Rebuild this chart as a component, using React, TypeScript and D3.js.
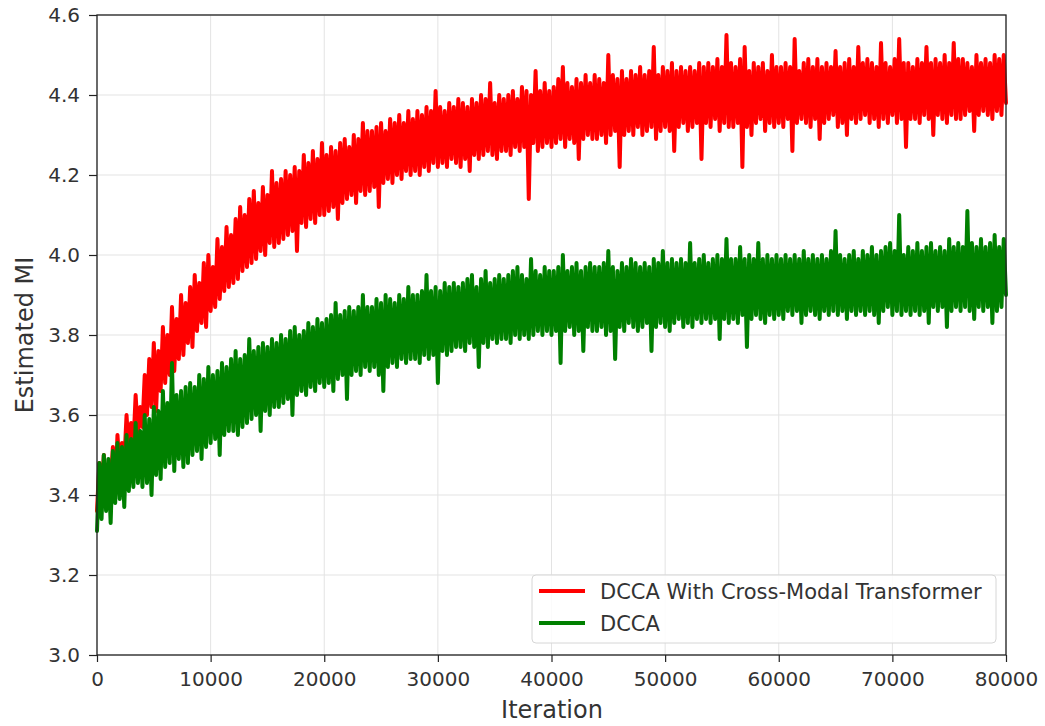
import React, { useEffect, useRef } from "react";
import * as d3 from "d3";

// iteration step between recorded samples
const STEP = 200;

// DCCA With Cross-Modal Transformer (one value every 200 iterations)
const transformerMI = [
  3.36, 3.48, 3.39, 3.50, 3.41, 3.47, 3.43, 3.52, 3.40, 3.55, 3.46, 3.53, 3.48, 3.60, 3.50, 3.58, 3.52, 3.65, 3.55, 3.62,
  3.57, 3.70, 3.60, 3.74, 3.62, 3.78, 3.61, 3.76, 3.66, 3.82, 3.68, 3.80, 3.70, 3.87, 3.71, 3.84, 3.74, 3.90, 3.75, 3.88,
  3.78, 3.92, 3.77, 3.95, 3.81, 3.93, 3.83, 3.98, 3.82, 4.00, 3.86, 3.97, 3.87, 4.04, 3.89, 4.02, 3.91, 4.07, 3.92, 4.05,
  3.93, 4.09, 3.94, 4.12, 3.96, 4.10, 3.97, 4.14, 3.98, 4.16, 3.99, 4.13, 4.01, 4.17, 4.00, 4.15, 4.03, 4.21, 4.02, 4.18,
  4.03, 4.19, 4.04, 4.21, 4.05, 4.20, 4.06, 4.22, 4.01, 4.21, 4.08, 4.25, 4.07, 4.23, 4.09, 4.26, 4.08, 4.24, 4.10, 4.28,
  4.10, 4.25, 4.11, 4.27, 4.12, 4.26, 4.09, 4.28, 4.13, 4.29, 4.14, 4.27, 4.15, 4.30, 4.13, 4.29, 4.16, 4.33, 4.15, 4.31,
  4.16, 4.31, 4.17, 4.32, 4.12, 4.33, 4.18, 4.31, 4.19, 4.34, 4.18, 4.33, 4.20, 4.35, 4.19, 4.33, 4.21, 4.36, 4.20, 4.34,
  4.21, 4.36, 4.20, 4.35, 4.22, 4.37, 4.21, 4.36, 4.23, 4.41, 4.22, 4.37, 4.23, 4.36, 4.22, 4.38, 4.24, 4.37, 4.23, 4.39,
  4.22, 4.38, 4.24, 4.37, 4.21, 4.39, 4.25, 4.38, 4.24, 4.40, 4.25, 4.39, 4.26, 4.43, 4.25, 4.38, 4.24, 4.40, 4.26, 4.39,
  4.26, 4.40, 4.25, 4.41, 4.27, 4.39, 4.26, 4.42, 4.27, 4.41, 4.14, 4.40, 4.28, 4.46, 4.26, 4.41, 4.27, 4.43, 4.28, 4.41,
  4.27, 4.42, 4.28, 4.44, 4.29, 4.47, 4.27, 4.43, 4.29, 4.42, 4.28, 4.44, 4.24, 4.43, 4.29, 4.45, 4.30, 4.43, 4.29, 4.45,
  4.29, 4.44, 4.30, 4.43, 4.28, 4.50, 4.30, 4.45, 4.31, 4.44, 4.22, 4.46, 4.30, 4.44, 4.31, 4.46, 4.30, 4.45, 4.32, 4.47,
  4.30, 4.45, 4.31, 4.46, 4.32, 4.52, 4.29, 4.45, 4.31, 4.47, 4.32, 4.46, 4.31, 4.48, 4.26, 4.46, 4.32, 4.47, 4.33, 4.46,
  4.31, 4.47, 4.32, 4.46, 4.33, 4.48, 4.24, 4.47, 4.33, 4.48, 4.32, 4.47, 4.34, 4.49, 4.31, 4.47, 4.33, 4.55, 4.32, 4.48,
  4.32, 4.47, 4.33, 4.49, 4.22, 4.52, 4.32, 4.46, 4.30, 4.48, 4.33, 4.47, 4.34, 4.48, 4.31, 4.46, 4.33, 4.50, 4.32, 4.47,
  4.33, 4.47, 4.32, 4.48, 4.34, 4.47, 4.26, 4.54, 4.33, 4.46, 4.34, 4.48, 4.33, 4.49, 4.32, 4.47, 4.34, 4.49, 4.29, 4.47,
  4.33, 4.48, 4.34, 4.47, 4.35, 4.51, 4.32, 4.47, 4.33, 4.48, 4.30, 4.49, 4.34, 4.47, 4.33, 4.52, 4.34, 4.48, 4.35, 4.49,
  4.33, 4.48, 4.34, 4.47, 4.32, 4.53, 4.34, 4.48, 4.33, 4.47, 4.35, 4.49, 4.33, 4.54, 4.34, 4.48, 4.27, 4.48, 4.34, 4.47,
  4.34, 4.49, 4.33, 4.48, 4.35, 4.52, 4.34, 4.48, 4.30, 4.49, 4.35, 4.48, 4.34, 4.50, 4.33, 4.48, 4.35, 4.53, 4.34, 4.49,
  4.34, 4.49, 4.35, 4.48, 4.36, 4.47, 4.31, 4.50, 4.35, 4.48, 4.36, 4.49, 4.35, 4.48, 4.34, 4.50, 4.36, 4.49, 4.35, 4.50,
  4.38,
];

// DCCA
const dccaMI = [
  3.31, 3.48, 3.34, 3.50, 3.36, 3.49, 3.33, 3.51, 3.38, 3.53, 3.39, 3.52, 3.37, 3.55, 3.41, 3.54, 3.42, 3.58, 3.43, 3.56,
  3.42, 3.60, 3.43, 3.59, 3.40, 3.62, 3.45, 3.61, 3.44, 3.66, 3.47, 3.63, 3.48, 3.73, 3.46, 3.65, 3.49, 3.66, 3.47, 3.67,
  3.48, 3.68, 3.50, 3.67, 3.51, 3.70, 3.49, 3.69, 3.52, 3.72, 3.53, 3.70, 3.54, 3.71, 3.50, 3.73, 3.55, 3.72, 3.56, 3.74,
  3.56, 3.76, 3.55, 3.74, 3.57, 3.75, 3.58, 3.79, 3.59, 3.76, 3.60, 3.77, 3.56, 3.78, 3.61, 3.77, 3.60, 3.79, 3.62, 3.78,
  3.62, 3.80, 3.63, 3.79, 3.64, 3.81, 3.60, 3.82, 3.65, 3.80, 3.66, 3.81, 3.65, 3.83, 3.67, 3.82, 3.66, 3.84, 3.68, 3.83,
  3.67, 3.84, 3.68, 3.85, 3.66, 3.88, 3.69, 3.85, 3.70, 3.86, 3.64, 3.87, 3.70, 3.86, 3.71, 3.87, 3.70, 3.90, 3.72, 3.87,
  3.71, 3.87, 3.72, 3.89, 3.70, 3.88, 3.66, 3.90, 3.72, 3.89, 3.73, 3.88, 3.72, 3.90, 3.74, 3.89, 3.73, 3.92, 3.74, 3.90,
  3.74, 3.90, 3.73, 3.91, 3.75, 3.95, 3.74, 3.91, 3.75, 3.92, 3.68, 3.91, 3.76, 3.93, 3.75, 3.92, 3.76, 3.93, 3.77, 3.92,
  3.77, 3.93, 3.76, 3.94, 3.78, 3.95, 3.77, 3.92, 3.72, 3.94, 3.78, 3.96, 3.77, 3.93, 3.79, 3.94, 3.78, 3.95, 3.79, 3.94,
  3.79, 3.95, 3.78, 3.96, 3.80, 3.97, 3.79, 3.95, 3.80, 3.94, 3.79, 3.99, 3.80, 3.96, 3.81, 3.95, 3.80, 3.97, 3.81, 3.96,
  3.80, 3.96, 3.81, 3.97, 3.73, 4.00, 3.81, 3.96, 3.82, 3.97, 3.80, 3.98, 3.81, 3.96, 3.76, 3.97, 3.82, 3.98, 3.81, 3.97,
  3.81, 3.97, 3.82, 3.98, 3.80, 4.01, 3.81, 3.97, 3.74, 3.96, 3.82, 3.98, 3.81, 3.97, 3.83, 3.99, 3.82, 3.98, 3.81, 3.97,
  3.82, 3.98, 3.83, 3.97, 3.76, 3.99, 3.82, 3.98, 3.83, 4.01, 3.82, 3.98, 3.81, 3.99, 3.83, 3.98, 3.84, 3.99, 3.82, 3.98,
  3.83, 4.03, 3.82, 3.98, 3.84, 3.99, 3.83, 4.00, 3.84, 3.98, 3.83, 3.99, 3.84, 4.00, 3.79, 3.99, 3.84, 4.04, 3.83, 3.99,
  3.84, 3.99, 3.83, 4.02, 3.85, 3.99, 3.77, 4.00, 3.84, 3.99, 3.85, 4.03, 3.84, 3.99, 3.83, 4.00, 3.85, 3.99, 3.84, 4.00,
  3.85, 3.99, 3.84, 4.00, 3.86, 3.99, 3.85, 4.00, 3.86, 3.99, 3.83, 4.01, 3.85, 3.99, 3.86, 4.00, 3.85, 3.99, 3.84, 4.00,
  3.86, 3.99, 3.85, 4.01, 3.86, 4.06, 3.85, 4.00, 3.86, 3.99, 3.84, 4.00, 3.86, 4.01, 3.85, 3.99, 3.86, 4.01, 3.85, 4.00,
  3.86, 4.02, 3.85, 4.00, 3.83, 4.01, 3.86, 4.02, 3.87, 4.03, 3.85, 4.01, 3.86, 4.10, 3.85, 4.00, 3.86, 4.02, 3.85, 4.01,
  3.86, 4.03, 3.85, 4.01, 3.86, 4.02, 3.83, 4.03, 3.87, 4.01, 3.86, 4.02, 3.87, 4.01, 3.82, 4.04, 3.86, 4.02, 3.87, 4.03,
  3.86, 4.02, 3.87, 4.11, 3.86, 4.03, 3.84, 4.02, 3.87, 4.04, 3.86, 4.02, 3.87, 4.03, 3.83, 4.05, 3.86, 4.02, 3.87, 4.04,
  3.90,
];

const xTicks = [0, 10000, 20000, 30000, 40000, 50000, 60000, 70000, 80000];
const yTicks = [3.0, 3.2, 3.4, 3.6, 3.8, 4.0, 4.2, 4.4, 4.6];

const seriesNames = ["DCCA With Cross-Modal Transformer", "DCCA"];
const seriesColors = ["#ff0000", "#008000"];

const App = () => {
  const chartRef = useRef<SVGSVGElement>(null);

  useEffect(() => {
    const svg = d3.select(chartRef.current);
    svg.selectAll("*").remove();

    const left = 97, right = 1006, top = 15, bottom = 655;
    const font = "'DejaVu Sans', sans-serif";
    const ink = "#333";

    const x = d3.scaleLinear().domain([0, 80000]).range([left, right]);
    const y = d3.scaleLinear().domain([3.0, 4.6]).range([bottom, top]);

    svg.append("rect").attr("width", 1045).attr("height", 726).attr("fill", "#fff");

    // grid
    const grid = svg.append("g").attr("stroke", "#e3e3e3").attr("stroke-width", 1);
    xTicks.forEach((t) => {
      grid.append("line").attr("x1", x(t)).attr("x2", x(t)).attr("y1", top).attr("y2", bottom);
    });
    yTicks.forEach((t) => {
      grid.append("line").attr("x1", left).attr("x2", right).attr("y1", y(t)).attr("y2", y(t));
    });

    // lines (red first so green sits on top)
    const line = d3
      .line<number>()
      .x((_, i) => x(i * STEP))
      .y((d) => y(d));

    [transformerMI, dccaMI].forEach((data, k) => {
      svg
        .append("path")
        .datum(data)
        .attr("d", line)
        .attr("fill", "none")
        .attr("stroke", seriesColors[k])
        .attr("stroke-width", 4)
        .attr("stroke-linejoin", "round")
        .attr("stroke-linecap", "round");
    });

    // axes
    const xAxis = svg
      .append("g")
      .attr("transform", `translate(0,${bottom})`)
      .call(d3.axisBottom(x).tickValues(xTicks).tickFormat(d3.format("d")).tickSize(7).tickSizeOuter(0));
    const yAxis = svg
      .append("g")
      .attr("transform", `translate(${left},0)`)
      .call(d3.axisLeft(y).tickValues(yTicks).tickFormat(d3.format(".1f")).tickSize(8).tickSizeOuter(0));

    [xAxis, yAxis].forEach((g) => {
      g.select(".domain").remove();
      g.selectAll("line").attr("stroke", "#222").attr("stroke-width", 1.2);
      g.selectAll("text").attr("fill", ink).style("font-family", font).style("font-size", "20px");
    });
    xAxis.selectAll("text").attr("y", 17);
    yAxis.selectAll("text").attr("x", -17);

    // frame
    svg
      .append("rect")
      .attr("x", left)
      .attr("y", top)
      .attr("width", right - left)
      .attr("height", bottom - top)
      .attr("fill", "none")
      .attr("stroke", "#222")
      .attr("stroke-width", 1.3);

    // axis labels
    svg
      .append("text")
      .attr("x", 552)
      .attr("y", 718)
      .attr("text-anchor", "middle")
      .style("font-family", font)
      .style("font-size", "24px")
      .attr("fill", ink)
      .text("Iteration");

    svg
      .append("text")
      .attr("transform", `translate(33,${(top + bottom) / 2}) rotate(-90)`)
      .attr("text-anchor", "middle")
      .style("font-family", font)
      .style("font-size", "24px")
      .attr("fill", ink)
      .text("Estimated MI");

    // legend
    const legend = svg.append("g");
    legend
      .append("rect")
      .attr("x", 532)
      .attr("y", 575)
      .attr("width", 464)
      .attr("height", 68)
      .attr("rx", 4)
      .attr("fill", "#fff")
      .attr("fill-opacity", 0.85)
      .attr("stroke", "#d6d6d6");

    seriesNames.forEach((name, k) => {
      const ly = 591 + k * 32;
      legend
        .append("line")
        .attr("x1", 539)
        .attr("x2", 585)
        .attr("y1", ly)
        .attr("y2", ly)
        .attr("stroke", seriesColors[k])
        .attr("stroke-width", 4);
      legend
        .append("text")
        .attr("x", 600)
        .attr("y", ly + 7.5)
        .style("font-family", font)
        .style("font-size", "21px")
        .attr("fill", ink)
        .text(name);
    });
  }, []);

  return (
    <svg
      ref={chartRef}
      width={1045}
      height={726}
      style={{ position: "absolute", left: 0, top: 0 }}
    />
  );
};

export default App;
